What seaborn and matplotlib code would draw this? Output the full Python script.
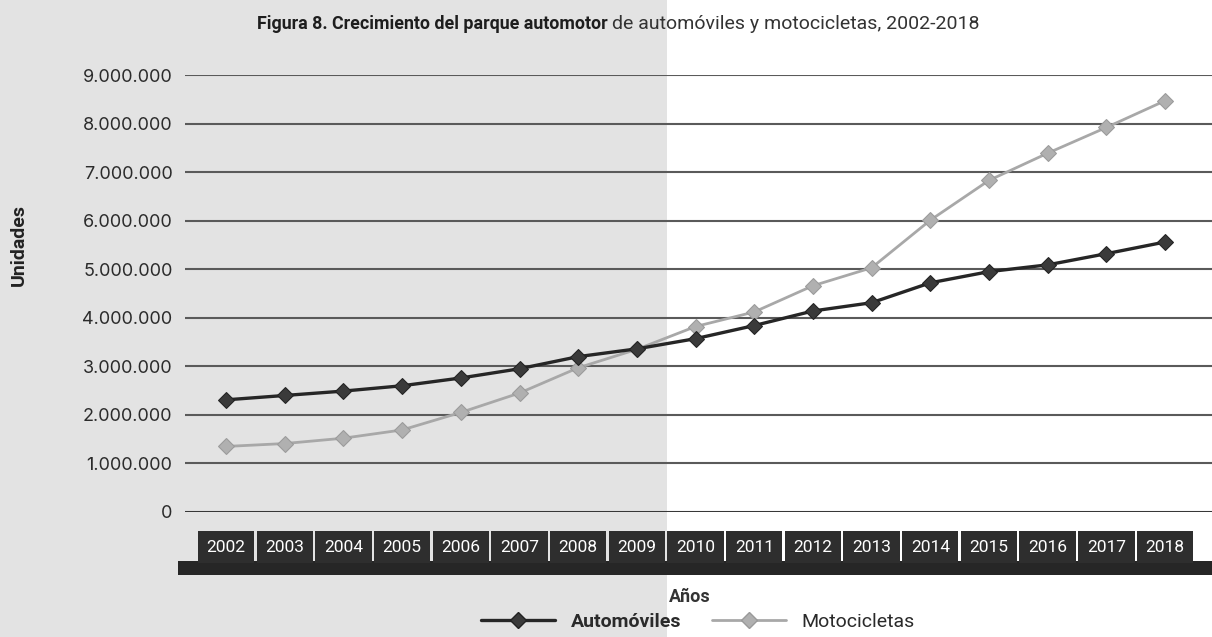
import matplotlib
matplotlib.use('Agg')
import matplotlib.pyplot as plt
from matplotlib import font_manager
from matplotlib.lines import Line2D
from matplotlib.patches import Rectangle
import pandas as pd
import seaborn as sns


years = list(range(2002, 2019))
automoviles = [2310000, 2400000, 2490000, 2600000, 2760000, 2950000, 3200000, 3360000,
               3570000, 3840000, 4140000, 4310000, 4720000, 4950000, 5090000, 5320000, 5560000]
motocicletas = [1350000, 1410000, 1520000, 1690000, 2050000, 2450000, 2970000, 3350000,
                3820000, 4120000, 4660000, 5030000, 6010000, 6830000, 7390000, 7920000, 8470000]
y_ticks = list(range(0, 9000001, 1000000))

sns.set_theme(style='white')

names = {f.name for f in font_manager.fontManager.ttflist}
narrow = 'Liberation Sans Narrow' if 'Liberation Sans Narrow' in names else 'Roboto'
plt.rcParams['font.family'] = ['Inter', 'DejaVu Sans']

df = pd.DataFrame({
    'Año': years * 2,
    'Unidades': automoviles + motocicletas,
    'Serie': ['Automóviles'] * len(years) + ['Motocicletas'] * len(years),
})

fig = plt.figure(figsize=(12.12, 6.37), dpi=100)
# greyish scanned area on the left
fig.patches.append(Rectangle((0, 0), 0.55, 1, transform=fig.transFigure,
                             fc='#e3e3e3', ec='none', zorder=-5))
ax = fig.add_axes([185 / 1212, 1 - 512 / 637, 1 - 185 / 1212, (512 - 75) / 637])
ax.set_facecolor('none')

sns.lineplot(data=df[df['Serie'] == 'Motocicletas'], x='Año', y='Unidades', ax=ax,
             color='#a8a8a8', linewidth=2, marker='D', markersize=8,
             markerfacecolor='#b0b0b0', markeredgecolor='#9a9a9a', zorder=3)
sns.lineplot(data=df[df['Serie'] == 'Automóviles'], x='Año', y='Unidades', ax=ax,
             color='#262626', linewidth=2.4, marker='D', markersize=8,
             markerfacecolor='#3a3a3a', markeredgecolor='#222222', zorder=4)

ax.set_xlim(2001.3, 2018.8)
ax.set_ylim(0, 9000000)
ax.set_yticks(y_ticks)
ax.set_yticklabels([f'{v:,}'.replace(',', '.') for v in y_ticks])
ax.set_xticks(years)
ax.set_xticklabels([str(y) for y in years])
ax.grid(axis='y', color='#5a5a5a', linewidth=1.5)
ax.grid(axis='x', visible=False)
for s in ax.spines.values():
    s.set_visible(False)
ax.axhline(0, color='#333333', linewidth=2, zorder=2)

ax.tick_params(axis='y', length=0, pad=9, labelsize=13, labelcolor='#2b2b2b')
ax.tick_params(axis='x', length=0, pad=20)
for lbl in ax.get_xticklabels():
    lbl.set_fontfamily(narrow)
    lbl.set_fontsize(12.5)
    lbl.set_color('white')
    lbl.set_bbox(dict(boxstyle='square,pad=0.5', fc='#2e2e2e', ec='none'))

ax.set_xlabel('Años', fontfamily=narrow, fontweight='bold', fontsize=13,
              color='#333333', labelpad=2)
ax.xaxis.set_label_coords((690 - 185) / (1212 - 185), -(588 - 512) / (512 - 75))
ax.set_ylabel('Unidades', fontfamily=narrow, fontweight='bold', fontsize=14, color='#222222')
ax.yaxis.set_label_coords(-(185 - 28) / (1212 - 185), (512 - 245) / (512 - 75))

# dark band under the year boxes
fig.patches.append(Rectangle((178 / 1212, 1 - 575 / 637), 1, 14 / 637,
                             transform=fig.transFigure, fc='#262626', ec='none', zorder=-1))

fig.text(608 / 1212, 1 - 24 / 637, 'Figura 8. Crecimiento del parque automotor', ha='right',
         va='center', fontfamily=narrow, fontweight='bold', fontsize=12.8, color='#1e1e1e')
fig.text(612 / 1212, 1 - 24 / 637, 'de automóviles y motocicletas, 2002-2018', ha='left',
         va='center', fontfamily=narrow, fontsize=14, color='#333333')

handles = [
    Line2D([], [], color='#262626', linewidth=2.4, marker='D', markersize=8,
           markerfacecolor='#3a3a3a', markeredgecolor='#222222'),
    Line2D([], [], color='#a8a8a8', linewidth=2, marker='D', markersize=8,
           markerfacecolor='#b0b0b0', markeredgecolor='#9a9a9a'),
]
leg = fig.legend(handles, ['Automóviles', 'Motocicletas'], loc='center',
                 bbox_to_anchor=(698 / 1212, 1 - 622 / 637), ncol=2, frameon=False,
                 handlelength=3.8, columnspacing=1.6, handletextpad=0.8,
                 prop={'family': narrow, 'size': 14})
leg.get_texts()[0].set_fontweight('bold')
for t in leg.get_texts():
    t.set_color('#2a2a2a')

fig.savefig('out.png', dpi=100)
